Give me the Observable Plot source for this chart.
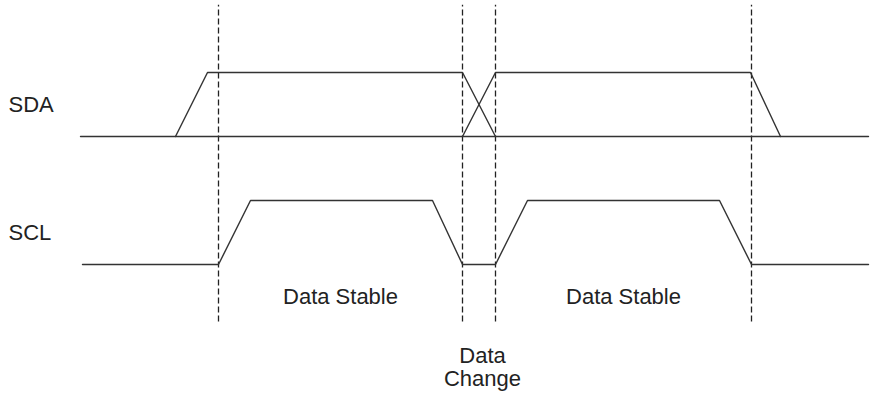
<!DOCTYPE html>
<html>
<head>
<meta charset="utf-8">
<script src="https://cdn.jsdelivr.net/npm/d3@7"></script>
<script src="https://cdn.jsdelivr.net/npm/@observablehq/plot@0.6"></script>
<style>
  html, body { margin: 0; padding: 0; background: #fff; }
  #chart svg { display: block; }
</style>
</head>
<body>
<div id="chart"></div>
<script>
// Time axis (arbitrary units) and logic levels; each signal row is offset by 2 levels
const signals = ["SCL", "SDA"];             // row 0, row 1
const timeStart = 80, timeEnd = 868;

// SDA: idle low line plus two high pulses (trapezoids) that cross at the data change
const sdaPulseA_t = [175, 207, 462, 495];
const sdaPulseB_t = [462, 495, 750, 780];
const sdaPulse_lv = [0, 1, 1, 0];

// SCL: one polyline
const scl_t  = [82, 218, 250, 432, 462, 495, 527, 719, 751, 868];
const scl_lv = [0, 0, 1, 1, 0, 0, 1, 1, 0, 0];

// Dashed markers (clock edges / data change window)
const markers = [218, 462, 495, 751];
const markerTop = 4.05, markerBottom = -0.9;

// Annotations
const stableLabels = [{t: 340, text: "Data Stable"}, {t: 623, text: "Data Stable"}];
const changeLabel = {t: 482, text: "Data\nChange"};

const rowOf = s => signals.indexOf(s) * 2;
const sdaA = sdaPulseA_t.map((t, i) => ({t, v: sdaPulse_lv[i] + rowOf("SDA")}));
const sdaB = sdaPulseB_t.map((t, i) => ({t, v: sdaPulse_lv[i] + rowOf("SDA")}));
const sdaBase = [{t: timeStart, v: rowOf("SDA")}, {t: timeEnd, v: rowOf("SDA")}];
const scl = scl_t.map((t, i) => ({t, v: scl_lv[i] + rowOf("SCL")}));
const names = signals.map(s => ({t: 8, v: rowOf(s) + 0.5, text: s}));

const font = "'Liberation Sans', Arial, Helvetica, sans-serif";
const stroke = "#333";

const chart = Plot.plot({
  width: 870,
  height: 404,
  margin: 0,
  x: {domain: [0, 870], axis: null},
  y: {domain: [-2.1875, 4.125], axis: null},
  style: {background: "#fff", fontFamily: font},
  marks: [
    Plot.ruleX(markers, {x: d => d, y1: markerBottom, y2: markerTop, stroke: "#222", strokeWidth: 1.3, strokeDasharray: "6,3"}),
    Plot.line(sdaBase, {x: "t", y: "v", stroke, strokeWidth: 1.4}),
    Plot.line(sdaA, {x: "t", y: "v", stroke, strokeWidth: 1.4}),
    Plot.line(sdaB, {x: "t", y: "v", stroke, strokeWidth: 1.4}),
    Plot.line(scl, {x: "t", y: "v", stroke, strokeWidth: 1.4}),
    Plot.text(names, {x: "t", y: "v", text: "text", textAnchor: "start", fontSize: 22, fill: "#222"}),
    Plot.text(stableLabels, {x: "t", y: -0.5, text: "text", fontSize: 22, fill: "#222"}),
    Plot.text([changeLabel], {x: "t", y: -1.6, text: "text", fontSize: 22, lineHeight: 1.07, fill: "#222"})
  ]
});
document.getElementById("chart").appendChild(chart);
</script>
</body>
</html>
